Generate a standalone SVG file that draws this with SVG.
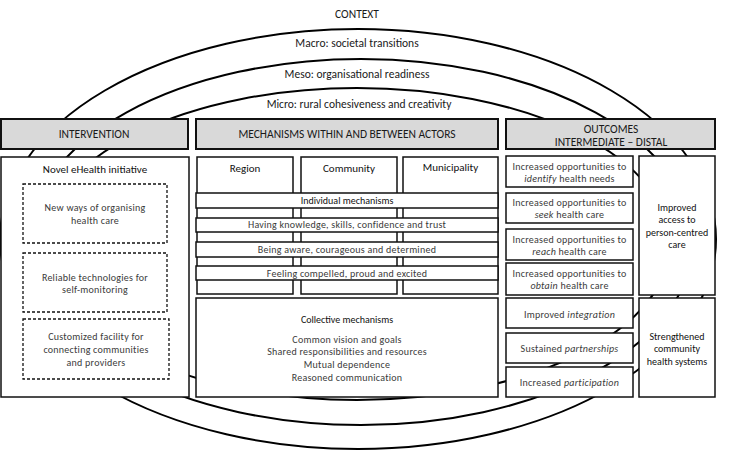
<svg xmlns="http://www.w3.org/2000/svg" width="737" height="461" viewBox="0 0 737 461">
<style>
text{font-family:Carlito,Lato,"Liberation Sans",sans-serif;text-anchor:middle}
.ring{fill:none;stroke:#000;stroke-width:2}
.hdr{fill:#d9d9d9;stroke:#111;stroke-width:2}
.box{fill:#fff;stroke:#111;stroke-width:1.5}
.dash{fill:#fff;stroke:#111;stroke-width:1.3;stroke-dasharray:3 2}
.h{font-size:11.5px;fill:#1a1a1a}
.t{font-size:11px;fill:#111}
.b{font-size:10px;fill:#3a3a3a;letter-spacing:0.25px;font-weight:300}
.s{font-size:10px;fill:#111}
</style>
<rect width="737" height="461" fill="#fff"/>
<g id="context-rings">
<ellipse class="ring" cx="358" cy="239" rx="358" ry="210"/>
<ellipse class="ring" cx="361" cy="242" rx="332" ry="183"/>
<ellipse class="ring" cx="357" cy="244" rx="313" ry="156"/>
</g>
<g id="context-labels">
<text class="h" x="357" y="18">CONTEXT</text>
<text class="h" x="357" y="47">Macro: societal transitions</text>
<text class="h" x="357" y="78">Meso: organisational readiness</text>
<text class="h" x="359" y="108">Micro: rural cohesiveness and creativity</text>
</g>
<g id="header-intervention">
<rect class="hdr" x="1" y="119" width="187" height="30"/>
<text class="h" x="94" y="138">INTERVENTION</text>
</g>
<g id="header-mechanisms">
<rect class="hdr" x="196" y="119" width="302" height="30"/>
<text class="h" x="347" y="138">MECHANISMS WITHIN AND BETWEEN ACTORS</text>
</g>
<g id="header-outcomes">
<rect class="hdr" x="506" y="119" width="209" height="30"/>
<text class="h" x="611" y="132.5">OUTCOMES</text>
<text class="h" x="611" y="146">INTERMEDIATE – DISTAL</text>
</g>
<g id="intervention">
<rect class="box" x="1" y="157" width="188" height="240"/>
<text class="t" x="95" y="173">Novel eHealth initiative</text>
</g>
<g id="new-ways">
<rect class="dash" x="23" y="184" width="144" height="59"/>
<text class="b" x="95" y="210.5">New ways of organising</text>
<text class="b" x="95" y="223.5">health care</text>
</g>
<g id="reliable-tech">
<rect class="dash" x="23" y="253" width="144" height="59"/>
<text class="b" x="95" y="280.5">Reliable technologies for</text>
<text class="b" x="95" y="292.5">self-monitoring</text>
</g>
<g id="customized-facility">
<rect class="dash" x="23" y="319" width="146" height="60"/>
<text class="b" x="96" y="339.5">Customized facility for</text>
<text class="b" x="96" y="352.5">connecting communities</text>
<text class="b" x="96" y="365.5">and providers</text>
</g>
<g id="region">
<rect class="box" x="197" y="157" width="96" height="137"/>
<text class="t" x="245" y="172">Region</text>
</g>
<g id="community">
<rect class="box" x="301" y="157" width="96" height="137"/>
<text class="t" x="349" y="172">Community</text>
</g>
<g id="municipality">
<rect class="box" x="403" y="157" width="95" height="137"/>
<text class="t" x="450.5" y="171">Municipality</text>
</g>
<g id="individual-mechanisms">
<rect class="box" x="196" y="193" width="302" height="15"/>
<text class="s" x="347" y="203.5">Individual mechanisms</text>
</g>
<g id="knowledge">
<rect class="box" x="196" y="218" width="302" height="14"/>
<text class="b" x="347" y="228">Having knowledge, skills, confidence and trust</text>
</g>
<g id="aware">
<rect class="box" x="196" y="242" width="302" height="15"/>
<text class="b" x="347" y="252.5">Being aware, courageous and determined</text>
</g>
<g id="compelled">
<rect class="box" x="196" y="266" width="302" height="14"/>
<text class="b" x="347" y="276.5">Feeling compelled, proud and excited</text>
</g>
<g id="collective-mechanisms">
<rect class="box" x="196" y="298" width="302" height="99"/>
<text class="s" x="347" y="322.5">Collective mechanisms</text>
<text class="b" x="347" y="342.5">Common vision and goals</text>
<text class="b" x="347" y="355">Shared responsibilities and resources</text>
<text class="b" x="347" y="367.5">Mutual dependence</text>
<text class="b" x="347" y="380.5">Reasoned communication</text>
</g>
<g id="identify">
<rect class="box" x="506" y="156" width="127" height="31"/>
<text class="b" x="569.5" y="169.5">Increased opportunities to</text>
<text class="b" x="569.5" y="181.5"><tspan font-style="italic">identify</tspan> health needs</text>
</g>
<g id="seek">
<rect class="box" x="506" y="193" width="127" height="30"/>
<text class="b" x="569.5" y="205.5">Increased opportunities to</text>
<text class="b" x="569.5" y="217.5"><tspan font-style="italic">seek</tspan> health care</text>
</g>
<g id="reach">
<rect class="box" x="506" y="229" width="127" height="31"/>
<text class="b" x="569.5" y="242.5">Increased opportunities to</text>
<text class="b" x="569.5" y="254.5"><tspan font-style="italic">reach</tspan> health care</text>
</g>
<g id="obtain">
<rect class="box" x="506" y="263" width="127" height="32"/>
<text class="b" x="569.5" y="276.5">Increased opportunities to</text>
<text class="b" x="569.5" y="288.5"><tspan font-style="italic">obtain</tspan> health care</text>
</g>
<g id="integration">
<rect class="box" x="506" y="298" width="127" height="30"/>
<text class="b" x="569.5" y="317.5">Improved <tspan font-style="italic">integration</tspan></text>
</g>
<g id="partnerships">
<rect class="box" x="506" y="333" width="127" height="30"/>
<text class="b" x="569.5" y="351.5">Sustained <tspan font-style="italic">partnerships</tspan></text>
</g>
<g id="participation">
<rect class="box" x="506" y="367" width="127" height="30"/>
<text class="b" x="569.5" y="385.5">Increased <tspan font-style="italic">participation</tspan></text>
</g>
<g id="improved-access">
<rect class="box" x="639" y="156" width="76" height="139"/>
<text class="s" x="677" y="210.5">Improved</text>
<text class="s" x="677" y="223">access to</text>
<text class="s" x="677" y="235.5">person-centred</text>
<text class="s" x="677" y="247.5">care</text>
</g>
<g id="strengthened">
<rect class="box" x="639" y="298" width="76" height="99"/>
<text class="s" x="677" y="339.5">Strengthened</text>
<text class="s" x="677" y="352">community</text>
<text class="s" x="677" y="364.5">health systems</text>
</g>
</svg>
